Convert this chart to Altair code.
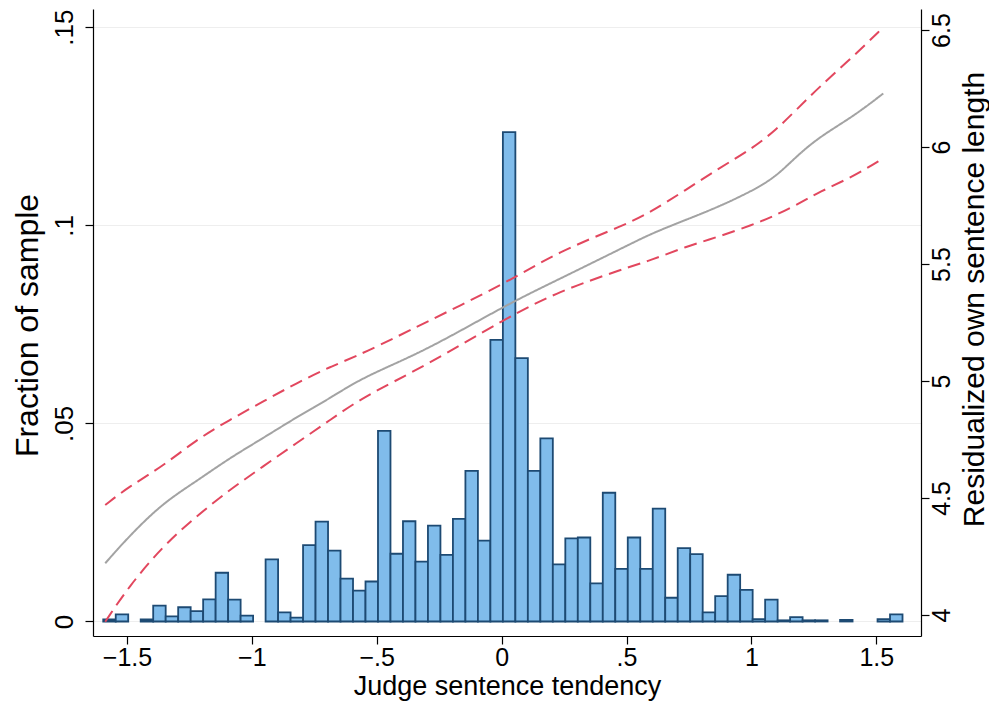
import altair as alt
import pandas as pd

# ---- data ----
BIN_START = -1.595
BIN_WIDTH = 0.05
fractions = [0.0005, 0.0018, 0.0, 0.0005, 0.004, 0.0013, 0.0036, 0.0026, 0.0056, 0.0123,
             0.0055, 0.0015, 0.0, 0.0157, 0.0023, 0.001, 0.0193, 0.0252, 0.0179, 0.0108,
             0.0078, 0.0101, 0.0481, 0.0171, 0.0253, 0.0151, 0.0242, 0.0168, 0.0259, 0.038,
             0.0204, 0.0711, 0.1235, 0.0665, 0.038, 0.0462, 0.0144, 0.021, 0.0212, 0.0096,
             0.0325, 0.0133, 0.0212, 0.0133, 0.0285, 0.006, 0.0185, 0.017, 0.0023, 0.0064,
             0.0118, 0.008, 0.0006, 0.0055, 0.0003, 0.0011, 0.0003, 0.0003, 0.0, 0.0004,
             0.0, 0.0, 0.0006, 0.0018]

fit_x = [-1.587, -1.493, -1.358, -1.224, -1.090, -0.956, -0.822, -0.687, -0.553, -0.311,
         0.017, 0.226, 0.494, 0.601, 0.736, 0.870, 1.004, 1.098, 1.179, 1.273, 1.407, 1.528]
fit_mid = [4.221, 4.335, 4.477, 4.570, 4.670, 4.755, 4.845, 4.926, 5.018, 5.125,
           5.325, 5.433, 5.574, 5.631, 5.688, 5.745, 5.813, 5.873, 5.959, 6.044, 6.130, 6.229]
fit_upper = [4.470, 4.548, 4.634, 4.748, 4.833, 4.912, 4.990, 5.061, 5.118, 5.247,
             5.418, 5.553, 5.667, 5.724, 5.816, 5.909, 5.994, 6.073, 6.158, 6.258, 6.386, 6.512]
fit_lower = [3.971, 4.121, 4.292, 4.420, 4.534, 4.634, 4.734, 4.833, 4.933, 5.061,
             5.268, 5.382, 5.482, 5.517, 5.574, 5.617, 5.667, 5.709, 5.752, 5.809, 5.873, 5.952]

x_ticks = [-1.5, -1, -0.5, 0, 0.5, 1, 1.5]
left_ticks = [0, 0.05, 0.1, 0.15]
right_ticks = [4, 4.5, 5, 5.5, 6, 6.5]

# ---- tables ----
bars = pd.DataFrame({
    "x0": [BIN_START + i * BIN_WIDTH for i in range(len(fractions))],
    "x1": [BIN_START + (i + 1) * BIN_WIDTH for i in range(len(fractions))],
    "frac": fractions,
})
bars = bars[bars["frac"] > 0]

lines = pd.concat([
    pd.DataFrame({"x": fit_x, "y": fit_mid, "s": "fit"}),
    pd.DataFrame({"x": fit_x, "y": fit_upper, "s": "upper"}),
    pd.DataFrame({"x": fit_x, "y": fit_lower, "s": "lower"}),
])

FONT = "Liberation Sans"
xscale = alt.Scale(domain=[-1.636, 1.679], nice=False, zero=False)
dot_fmt = "replace(format(datum.value, '~g'), '0.', '.')"

bar_layer = alt.Chart(bars).mark_rect(
    fill="#80bceb", stroke="#1d4a73", strokeWidth=1.8
).encode(
    x=alt.X("x0:Q", scale=xscale,
            axis=alt.Axis(values=x_ticks, labelExpr=dot_fmt, title="Judge sentence tendency",
                          grid=False, labelFontSize=25, titleFontSize=27, labelPadding=1,
                          titlePadding=3, titleFontWeight="normal")),
    x2="x1:Q",
    y=alt.Y("frac:Q", scale=alt.Scale(domain=[-0.00366, 0.1546], nice=False, zero=False),
            axis=alt.Axis(orient="left", values=left_ticks, labelExpr=dot_fmt,
                          title="Fraction of sample", grid=True, gridColor="#eeeeee",
                          labelAngle=270, labelAlign="center", labelBaseline="bottom",
                          labelFontSize=26, titleFontSize=32, labelPadding=8,
                          titleAngle=270, titleX=-66, titleY=316, titleAlign="center",
                          titleBaseline="middle", titleFontWeight="normal")),
    y2=alt.datum(0),
)

line_layer = alt.Chart(lines).mark_line(strokeWidth=2, interpolate="basis").encode(
    x=alt.X("x:Q", scale=xscale),
    y=alt.Y("y:Q", scale=alt.Scale(domain=[3.910, 6.590], nice=False, zero=False),
            axis=alt.Axis(orient="right", values=right_ticks, format="~g",
                          title="Residualized own sentence length", grid=False,
                          labelAngle=270, labelAlign="center", labelBaseline="top",
                          labelFontSize=25, titleFontSize=30, titleAngle=270,
                          titleX=53, titleY=290, titleAlign="center", titleBaseline="middle",
                          labelPadding=0, titleFontWeight="normal")),
    color=alt.Color("s:N", scale=alt.Scale(domain=["fit", "upper", "lower"],
                                           range=["#a3a3a3", "#e2475e", "#e2475e"]),
                    legend=None),
    strokeDash=alt.StrokeDash("s:N", scale=alt.Scale(domain=["fit", "upper", "lower"],
                                                     range=[[1, 0], [13, 7], [13, 7]]),
                              legend=None),
    detail="s:N",
    order="x:Q",
)

chart = alt.layer(bar_layer, line_layer).resolve_scale(y="independent").properties(
    width=828, height=627,
    autosize=alt.AutoSizeParams(type="none"),
    padding={"left": 85, "top": 1, "right": 68, "bottom": 75},
    background="white",
).configure_view(stroke=None).configure_axis(
    domainColor="black", domainWidth=1.2, tickColor="black", tickSize=8, tickWidth=1.2,
    labelColor="black", titleColor="black", labelFont=FONT, titleFont=FONT,
)

chart.save("out.html", embed_options={"renderer": "svg", "actions": False})
